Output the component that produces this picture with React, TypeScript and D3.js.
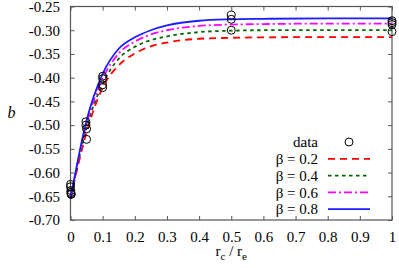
import React, { useRef, useEffect } from "react";
import * as d3 from "d3";

// x values (r_c / r_e) where the fitted curves were read
const curveX = [0, 0.05, 0.1, 0.15, 0.2, 0.25, 0.3, 0.4, 0.5, 0.6, 0.8, 1.0];

// fitted curves, one per beta
const beta02 = [-0.655, -0.515, -0.421, -0.374, -0.349, -0.334, -0.326, -0.318, -0.316, -0.315, -0.3145, -0.3145];
const beta04 = [-0.655, -0.505, -0.413, -0.36, -0.335, -0.321, -0.313, -0.304, -0.301, -0.3, -0.3, -0.3];
const beta06 = [-0.655, -0.497, -0.402, -0.349, -0.324, -0.309, -0.3, -0.291, -0.288, -0.287, -0.286, -0.286];
const beta08 = [-0.655, -0.49, -0.392, -0.339, -0.315, -0.3, -0.29, -0.28, -0.277, -0.276, -0.275, -0.275];

// measured points
const dataX = [0, 0, 0.001, 0.001, 0.002, 0.002, 0.048, 0.048, 0.05, 0.05, 0.1, 0.1, 0.1, 0.1, 0.5, 0.5, 0.5, 1, 1, 1, 1];
const dataY = [-0.625, -0.63, -0.638, -0.642, -0.645, -0.646, -0.493, -0.5, -0.508, -0.53, -0.397, -0.402, -0.415, -0.421, -0.268, -0.277, -0.3, -0.28, -0.284, -0.288, -0.303];

const xTicks = [0, 0.1, 0.2, 0.3, 0.4, 0.5, 0.6, 0.7, 0.8, 0.9, 1];
const yTicks = [-0.25, -0.3, -0.35, -0.4, -0.45, -0.5, -0.55, -0.6, -0.65, -0.7];

const seriesNames = ["β = 0.2", "β = 0.4", "β = 0.6", "β = 0.8"];

export default function App() {
  const svgRef = useRef<SVGSVGElement>(null);

  useEffect(() => {
    const w = 399;
    const h = 268;
    const left = 70.5;
    const right = 392;
    const top = 6.5;
    const bottom = 220;
    const font = "Liberation Serif, DejaVu Serif, serif";

    const svg = d3.select(svgRef.current).attr("width", w).attr("height", h);
    svg.selectAll("*").remove();

    const x = d3.scaleLinear().domain([0, 1]).range([left, right]);
    const y = d3.scaleLinear().domain([-0.7, -0.25]).range([bottom, top]);

    const styles = [
      { color: "#ff0000", dash: "7,5", width: 1.8 },
      { color: "#006400", dash: "3.5,3.5", width: 1.8 },
      { color: "#ff00ff", dash: "8,3,2,3", width: 1.8 },
      { color: "#1c1cff", dash: null, width: 1.8 },
    ];
    const series = [beta02, beta04, beta06, beta08];

    //axes with inward ticks
    const axisColor = "#555";
    const xAxis = d3
      .axisBottom(x)
      .tickValues(xTicks)
      .tickSizeInner(-4)
      .tickSizeOuter(0)
      .tickPadding(11)
      .tickFormat((d) => String(+d));
    const yAxis = d3
      .axisLeft(y)
      .tickValues(yTicks)
      .tickSizeInner(-4)
      .tickSizeOuter(0)
      .tickPadding(10.5)
      .tickFormat((d) => (+d).toFixed(2));
    const xTop = d3.axisTop(x).tickValues(xTicks).tickSizeInner(-4).tickSizeOuter(0).tickFormat(() => "");
    const yRight = d3.axisRight(y).tickValues(yTicks).tickSizeInner(-4).tickSizeOuter(0).tickFormat(() => "");

    const gx = svg.append("g").attr("transform", `translate(0, ${bottom})`).call(xAxis);
    const gy = svg.append("g").attr("transform", `translate(${left}, 0)`).call(yAxis);
    const gt = svg.append("g").attr("transform", `translate(0, ${top})`).call(xTop);
    const gr = svg.append("g").attr("transform", `translate(${right}, 0)`).call(yRight);
    [gx, gy, gt, gr].forEach((g) => {
      g.attr("font-family", font).attr("font-size", 15);
      g.select(".domain").remove();
      g.selectAll("line").attr("stroke", axisColor);
      g.selectAll("text").attr("fill", "#000");
    });

    svg
      .append("rect")
      .attr("x", left)
      .attr("y", top)
      .attr("width", right - left)
      .attr("height", bottom - top)
      .attr("fill", "none")
      .attr("stroke", axisColor)
      .attr("stroke-width", 1.2);

    //curves
    const line = d3
      .line<number>()
      .x((d, i) => x(curveX[i]))
      .y((d) => y(d))
      .curve(d3.curveMonotoneX);

    series.forEach((s, i) => {
      svg
        .append("path")
        .attr("d", line(s))
        .attr("fill", "none")
        .attr("stroke", styles[i].color)
        .attr("stroke-width", styles[i].width)
        .attr("stroke-dasharray", styles[i].dash);
    });

    //data points
    svg
      .append("g")
      .selectAll("circle")
      .data(dataY)
      .join("circle")
      .attr("cx", (d, i) => x(dataX[i]))
      .attr("cy", (d) => y(d))
      .attr("r", 4)
      .attr("fill", "none")
      .attr("stroke", "#000")
      .attr("stroke-width", 1);

    //legend
    const lg = svg.append("g").attr("font-family", font).attr("font-size", 15);
    const rowY = (i: number) => 142 + i * 16.8;
    lg.append("text").attr("x", 318).attr("y", rowY(0)).attr("dy", "0.35em").attr("text-anchor", "end").text("data");
    lg.append("circle").attr("cx", 349).attr("cy", rowY(0)).attr("r", 4).attr("fill", "none").attr("stroke", "#000");
    seriesNames.forEach((name, i) => {
      const yy = rowY(i + 1);
      lg.append("text").attr("x", 318).attr("y", yy).attr("dy", "0.35em").attr("text-anchor", "end").text(name);
      lg.append("line")
        .attr("x1", 328)
        .attr("x2", 370)
        .attr("y1", yy)
        .attr("y2", yy)
        .attr("stroke", styles[i].color)
        .attr("stroke-width", styles[i].width)
        .attr("stroke-dasharray", styles[i].dash);
    });

    //axis titles
    const xl = svg
      .append("text")
      .attr("x", (left + right) / 2)
      .attr("y", 256)
      .attr("text-anchor", "middle")
      .attr("font-family", font)
      .attr("font-size", 15);
    xl.append("tspan").text("r");
    xl.append("tspan").attr("dy", 4).attr("font-size", 11).text("c");
    xl.append("tspan").attr("dy", -4).text(" / r");
    xl.append("tspan").attr("dy", 4).attr("font-size", 11).text("e");

    svg
      .append("text")
      .attr("x", 11.5)
      .attr("y", 112)
      .attr("dy", "0.35em")
      .attr("text-anchor", "middle")
      .attr("font-family", font)
      .attr("font-size", 16)
      .attr("font-style", "italic")
      .text("b");
  }, []);

  return (
    <svg
      ref={svgRef}
      style={{ position: "absolute", left: 0, top: 0, background: "#fff" }}
    ></svg>
  );
}
